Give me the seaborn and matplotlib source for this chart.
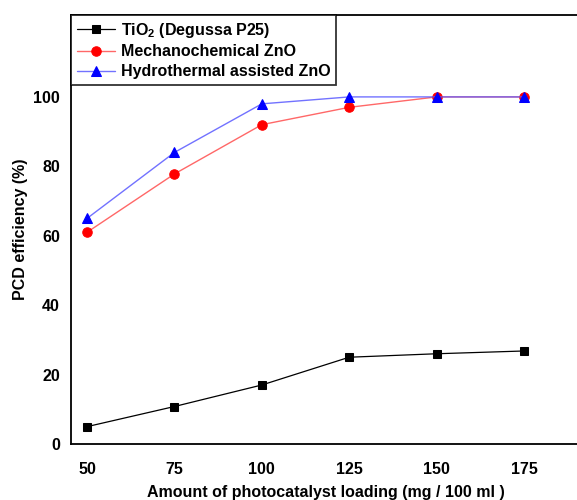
import matplotlib
matplotlib.use("Agg")
import matplotlib.pyplot as plt
import seaborn as sns
import pandas as pd

loading = [50, 75, 100, 125, 150, 175]
tio2 = [5, 10.8, 17, 25, 26, 26.8]
mechano = [61, 77.8, 92, 97, 100, 100]
hydro = [65, 84, 98, 100, 100, 100]
labels = [r"TiO$_\mathbf{2}$ (Degussa P25)", "Mechanochemical ZnO", "Hydrothermal assisted ZnO"]
xticks = [50, 75, 100, 125, 150, 175]
yticks = [0, 20, 40, 60, 80, 100]

sns.set_theme(style="white")
plt.rcParams["font.family"] = ["Liberation Sans", "DejaVu Sans"]
plt.rcParams["font.weight"] = "bold"
plt.rcParams["text.color"] = "black"
plt.rcParams["axes.labelcolor"] = "black"
plt.rcParams["xtick.color"] = "black"
plt.rcParams["ytick.color"] = "black"
plt.rcParams["mathtext.fontset"] = "custom"
plt.rcParams["mathtext.rm"] = "Liberation Sans:bold"
plt.rcParams["mathtext.bf"] = "Liberation Sans:bold"
plt.rcParams["mathtext.it"] = "Liberation Sans:bold"

fig = plt.figure(figsize=(5.77, 5.0), dpi=100)
ax = fig.add_axes([0.123, 0.112, 0.882, 0.858])

sns.lineplot(x=loading, y=tio2, ax=ax, color="black", marker="s", markersize=5.5,
             linewidth=0.9, mfc="black", mec="black", label=labels[0])
sns.lineplot(x=loading, y=mechano, ax=ax, color=(1, 0.3, 0.3, 0.85), marker="o", markersize=6.8,
             linewidth=1.0, mfc="red", mec="red", label=labels[1])
sns.lineplot(x=loading, y=hydro, ax=ax, color=(0.35, 0.35, 1, 0.85), marker="^", markersize=7.5,
             linewidth=1.0, mfc="blue", mec="blue", label=labels[2])

ax.set_xlim(45.4, 191)
ax.set_ylim(0, 123.6)
ax.set_xticks(xticks)
ax.set_yticks(yticks)
ax.tick_params(axis="both", length=0, labelsize=11.5, colors="black")
ax.tick_params(axis="x", pad=13)
ax.tick_params(axis="y", pad=8)
for lab in ax.get_xticklabels() + ax.get_yticklabels():
    lab.set_fontweight("bold")

ax.set_xlabel("Amount of photocatalyst loading (mg / 100 ml )", fontsize=11.5, fontweight="bold",
              labelpad=5.5, color="black")
ax.set_ylabel("PCD efficiency (%)", fontsize=11.5, fontweight="bold", labelpad=4, color="black")

for s in ax.spines.values():
    s.set_color("black")
    s.set_linewidth(1.3)

leg = ax.legend(loc="upper left", bbox_to_anchor=(0, 1), borderaxespad=0, fontsize=11.5,
                frameon=True, fancybox=False, handlelength=2.4, handletextpad=0.4,
                labelspacing=0.3, borderpad=0.35)
leg.get_frame().set_edgecolor("black")
leg.get_frame().set_linewidth(1.3)
for t in leg.get_texts():
    t.set_fontweight("bold")
    t.set_color("black")

fig.savefig("out.png", dpi=100)
